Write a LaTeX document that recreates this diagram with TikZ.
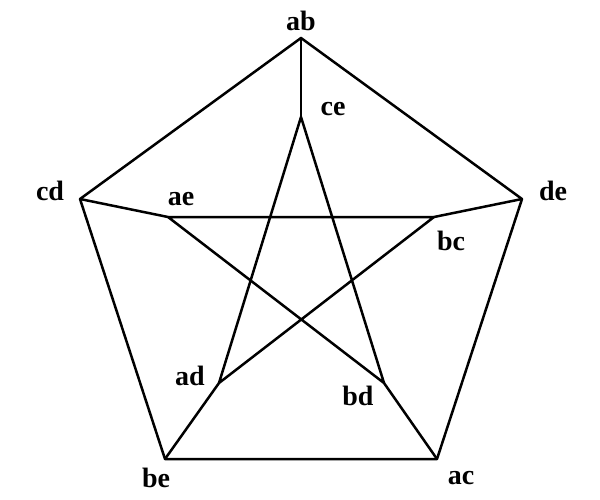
\documentclass[tikz,border=0pt]{standalone}
\usepackage{fontspec}
\setmainfont{Liberation Serif}
\begin{document}
\begin{tikzpicture}[x=1pt,y=-1pt,
  vtx/.style={inner sep=0pt,minimum size=0pt},
  lbl/.style={font=\fontsize{28}{28}\selectfont\bfseries,inner sep=0pt,anchor=center},
  edge/.style={line width=2.5pt,line join=round,line cap=round}]
\useasboundingbox (0,0) rectangle (600,500);
% vertices
\coordinate (ab) at (301,38);
\coordinate (de) at (522,199);
\coordinate (ac) at (437,459);
\coordinate (be) at (165,459);
\coordinate (cd) at (80,199);
\coordinate (ce) at (301,117);
\coordinate (bc) at (434,217);
\coordinate (bd) at (384,383);
\coordinate (ad) at (219,383);
\coordinate (ae) at (168,217);
% labels
\node[lbl] (lab) at (301,21) {ab};
\node[lbl] (lce) at (333,109) {ce};
\node[lbl] (lde) at (553,191) {de};
\node[lbl] (lbc) at (451,241) {bc};
\node[lbl] (lbd) at (358,396) {bd};
\node[lbl] (lac) at (461,478) {ac};
\node[lbl] (lbe) at (156,478) {be};
\node[lbl] (lad) at (190,376) {ad};
\node[lbl] (lae) at (181,199) {ae};
\node[lbl] (lcd) at (50,191) {cd};
% outer
\draw[edge] (ab) -- (de) -- (ac) -- (be) -- (cd) -- cycle;
% spokes
\draw[edge] (ab) -- (ce);
\draw[edge] (de) -- (bc);
\draw[edge] (ac) -- (bd);
\draw[edge] (be) -- (ad);
\draw[edge] (cd) -- (ae);
% star
\draw[edge] (ce) -- (ad) -- (bc) -- (ae) -- (bd) -- cycle;
\end{tikzpicture}
\end{document}
